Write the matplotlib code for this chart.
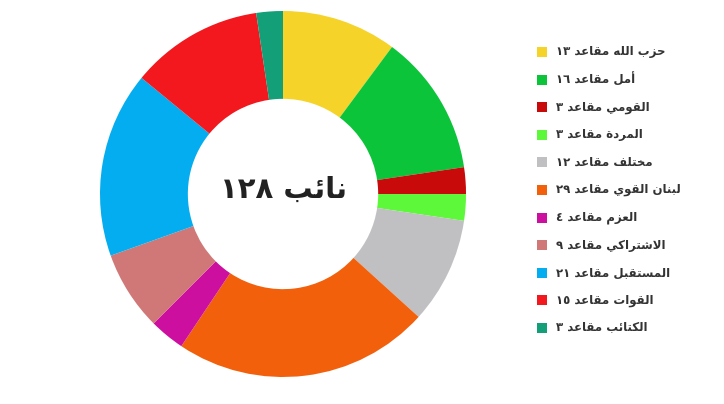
import matplotlib
matplotlib.use("Agg")
import matplotlib.pyplot as plt
from matplotlib.patches import Rectangle

parties = ["حزب الله", "أمل", "القومي", "المردة", "مختلف", "لبنان القوي", "العزم",
           "الاشتراكي", "المستقبل", "القوات", "الكتائب"]
seats = [13, 16, 3, 3, 12, 29, 4, 9, 21, 15, 3]
colors = ["#f5d328", "#0cc43a", "#c80a0a", "#5ef83a", "#c0bfc1", "#f2600c",
          "#cc0f9e", "#d07878", "#03adef", "#f2181d", "#13a078"]
center_label = "نائب"

# minimal Arabic shaping: isolated, final, initial, medial
F = {
 'ا': (0xFE8D, 0xFE8E, None, None), 'أ': (0xFE83, 0xFE84, None, None),
 'ب': (0xFE8F, 0xFE90, 0xFE91, 0xFE92), 'ة': (0xFE93, 0xFE94, None, None),
 'ت': (0xFE95, 0xFE96, 0xFE97, 0xFE98), 'ح': (0xFEA1, 0xFEA2, 0xFEA3, 0xFEA4),
 'خ': (0xFEA5, 0xFEA6, 0xFEA7, 0xFEA8), 'د': (0xFEA9, 0xFEAA, None, None),
 'ر': (0xFEAD, 0xFEAE, None, None), 'ز': (0xFEAF, 0xFEB0, None, None),
 'س': (0xFEB1, 0xFEB2, 0xFEB3, 0xFEB4), 'ش': (0xFEB5, 0xFEB6, 0xFEB7, 0xFEB8),
 'ع': (0xFEC9, 0xFECA, 0xFECB, 0xFECC), 'ف': (0xFED1, 0xFED2, 0xFED3, 0xFED4),
 'ق': (0xFED5, 0xFED6, 0xFED7, 0xFED8), 'ك': (0xFED9, 0xFEDA, 0xFEDB, 0xFEDC),
 'ل': (0xFEDD, 0xFEDE, 0xFEDF, 0xFEE0), 'م': (0xFEE1, 0xFEE2, 0xFEE3, 0xFEE4),
 'ن': (0xFEE5, 0xFEE6, 0xFEE7, 0xFEE8), 'ه': (0xFEE9, 0xFEEA, 0xFEEB, 0xFEEC),
 'و': (0xFEED, 0xFEEE, None, None), 'ي': (0xFEF1, 0xFEF2, 0xFEF3, 0xFEF4),
 'ئ': (0xFE89, 0xFE8A, 0xFE8B, 0xFE8C),
}

def shape_word(w):
    # lam-alef ligature
    chars = []
    i = 0
    while i < len(w):
        if w[i] == 'ل' and i + 1 < len(w) and w[i+1] == 'ا':
            chars.append('LA'); i += 2
        else:
            chars.append(w[i]); i += 1
    out = []
    for k, c in enumerate(chars):
        prev = chars[k-1] if k > 0 else None
        nxt = chars[k+1] if k + 1 < len(chars) else None
        pj = prev is not None and prev != 'LA' and F[prev][2] is not None
        nj = nxt is not None
        if c == 'LA':
            out.append(chr(0xFEFC if pj else 0xFEFB)); continue
        iso, fin, ini, med = F[c]
        can_next = ini is not None and nj
        if pj and can_next:
            out.append(chr(med))
        elif pj:
            out.append(chr(fin))
        elif can_next:
            out.append(chr(ini))
        else:
            out.append(chr(iso))
    return ''.join(out)

def visual(phrase):
    return ' '.join(shape_word(w)[::-1] for w in phrase.split()[::-1])

def ar_num(n):
    return ''.join(chr(0x660 + int(d)) for d in str(n))

W, H = 724, 404
fig = plt.figure(figsize=(W/100, H/100), dpi=100)
cx, cy, R = 283, 194, 183
ax = fig.add_axes([(cx-R)/W, (H-cy-R)/H, 2*R/W, 2*R/H])
ax.pie(seats, colors=colors, startangle=90, counterclock=False, radius=1,
       wedgeprops=dict(width=0.48, linewidth=0))
ax.set_xlim(-1, 1); ax.set_ylim(-1, 1); ax.set_aspect('equal'); ax.axis('off')
ax.text(0, 0.02, ar_num(sum(seats)) + " " + visual(center_label), ha='center', va='center',
        fontsize=21, fontweight='bold', family='DejaVu Sans', color='#222222')

y0, dy = 52, 27.6
for i, (p, s, c) in enumerate(zip(parties, seats, colors)):
    y = y0 + i * dy
    fig.patches.append(Rectangle((537/W, (H-y-5)/H), 10/W, 10/H, transform=fig.transFigure,
                                 facecolor=c, edgecolor='none'))
    label = ar_num(s) + " " + visual("مقاعد") + " " + visual(p)
    fig.text(556/W, (H-y)/H, label, ha='left', va='center', fontsize=8.5,
             fontweight='bold', family='DejaVu Sans', color='#333333')

fig.savefig("out.png", dpi=100)
